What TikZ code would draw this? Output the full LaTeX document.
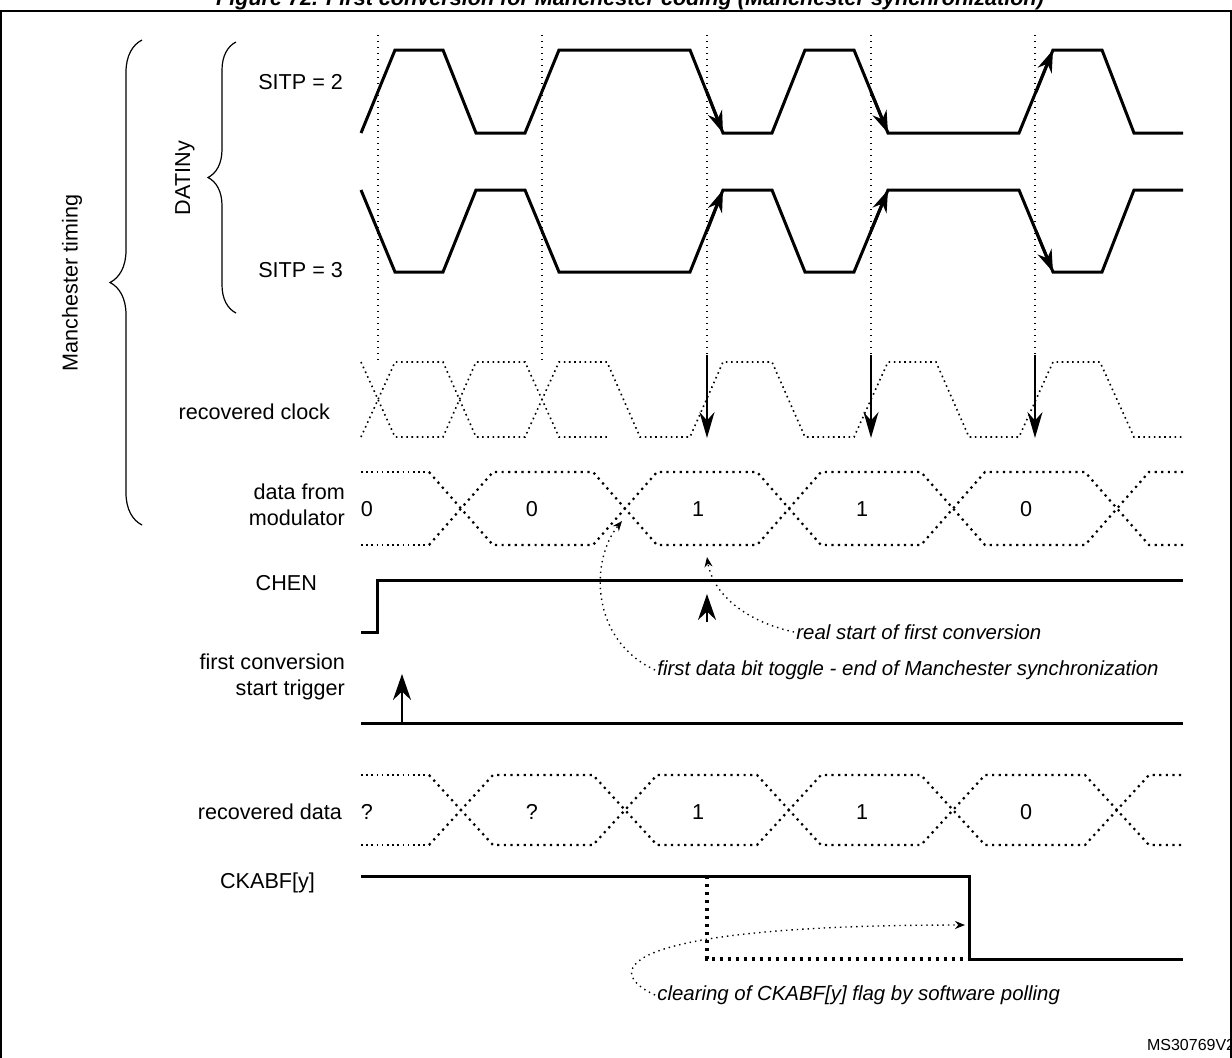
\documentclass[tikz,border=0pt]{standalone}
\usepackage{fontspec}
\setmainfont{Liberation Sans}
\usetikzlibrary{arrows.meta,decorations.pathreplacing}
\begin{document}
\begin{tikzpicture}[x=0.5pt,y=-0.5pt,
  sig/.style={line width=1.5pt,line join=miter},
  vdot/.style={line width=0.6pt,dash pattern=on 0.6pt off 2.4pt},
  bus/.style={line width=1.1pt,dash pattern=on 1.1pt off 2.2pt},
  clk/.style={line width=0.8pt,dash pattern=on 0.8pt off 1.8pt},
  lab/.style={font=\fontsize{10.8}{13}\selectfont,align=right,anchor=east},
  val/.style={font=\fontsize{10.8}{13}\selectfont},
  note/.style={font=\itshape\fontsize{10.2}{12}\selectfont,anchor=west,inner sep=1pt},
  edgearr/.style={line width=1.5pt,-{Stealth[length=11pt,width=7.5pt]}},
  bigarr/.style={line width=1pt,-{Stealth[length=13pt,width=9pt]}},
  smallarr/.style={line width=0.7pt,dash pattern=on 0.7pt off 2pt,-{Stealth[length=5pt,width=4pt]}}]
\useasboundingbox (0,0) rectangle (1232,1057);
\clip (0,0) rectangle (1232,1057);
\node[font=\bfseries\itshape\fontsize{10.8}{13}\selectfont,anchor=base] (title) at (630,5) {Figure 72. First conversion for Manchester coding (Manchester synchronization)};
\draw[line width=1pt] (1,1100) -- (1,11) -- (1231,11) -- (1231,1100);
% vertical dotted guides
\foreach \x/\e in {378/362,542/362,707/355,871/355,1035/355} \draw[vdot] (\x,35) -- (\x,\e);
% SITP = 2
\draw[sig] (361,133)--(395,50)--(443,50)--(476,133)--(525,133)--(559,50)--(690,50)--(723,133)--(772,133)--(805,50)--(854,50)--(888,133)--(1019,133)--(1053,50)--(1102,50)--(1134,133)--(1183,133);
\draw[edgearr] (707,92) -- (723,133);
\draw[edgearr] (871,92) -- (888,133);
\draw[edgearr] (1036,92) -- (1053,50);
% SITP = 3
\draw[sig] (361,190)--(395,272)--(443,272)--(476,190)--(525,190)--(559,272)--(690,272)--(723,190)--(772,190)--(805,272)--(854,272)--(888,190)--(1019,190)--(1053,272)--(1102,272)--(1134,190)--(1183,190);
\draw[edgearr] (707,231) -- (723,190);
\draw[edgearr] (871,231) -- (888,190);
\draw[edgearr] (1036,231) -- (1053,272);
% recovered clock
\draw[clk] (361,437)--(395,362)--(443,362)--(476,437)--(525,437)--(559,362)--(607,362)--(640,437)--(690,437)--(723,362)--(772,362)--(805,437)--(854,437)--(888,362)--(936,362)--(969,437)--(1019,437)--(1053,362)--(1100,362)--(1134,437)--(1183,437);
\draw[clk] (361,362)--(395,437)--(443,437)--(476,362)--(525,362)--(559,437)--(607,437);
\foreach \x in {707,871,1035} \draw[line width=1pt,-{Stealth[length=13pt,width=7.5pt]}] (\x,355) -- (\x,438);
% data from modulator
\draw[clk] (361,472)--(429,472) (361,545)--(429,545);
\draw[bus] (429,472)--(493,545)--(593,545)--(657,472)--(757,472)--(821,545)--(921,545)--(985,472)--(1085,472)--(1149,545)--(1183,545);
\draw[bus] (429,545)--(493,472)--(593,472)--(657,545)--(757,545)--(821,472)--(921,472)--(985,545)--(1085,545)--(1149,472)--(1183,472);
\foreach \x/\t/\n in {367/0/a,532/0/b,698/1/c,862/1/d,1026/0/e} \node[val] (dm\n) at (\x,509) {\t};
% CHEN
\draw[sig] (361,632)--(377,632)--(377,580)--(1183,580);
\draw[bigarr] (707,622) -- (707,594);
% trigger
\draw[sig] (361,723)--(1183,723);
\draw[bigarr] (402,723) -- (402,674);
% recovered data
\draw[clk] (361,775)--(429,775) (361,845)--(429,845);
\draw[bus] (429,775)--(493,845)--(593,845)--(657,775)--(757,775)--(821,845)--(921,845)--(985,775)--(1085,775)--(1149,845)--(1183,845);
\draw[bus] (429,845)--(493,775)--(593,775)--(657,845)--(757,845)--(821,775)--(921,775)--(985,845)--(1085,845)--(1149,775)--(1183,775);
\foreach \x/\t/\n in {367/?/a,532/?/b,698/1/c,862/1/d,1026/0/e} \node[val] (rd\n) at (\x,812) {\t};
% CKABF
\draw[sig] (361,876)--(969,876)--(969,959)--(1183,959);
\draw[bus,line width=1.6pt,dash pattern=on 1.6pt off 2.4pt] (707,876)--(707,959)--(969,959);
% notes
\node[note] (n1) at (794,632) {real start of first conversion};
\node[note] (n2) at (655,670) {first data bit toggle - end of Manchester synchronization};
\node[note] (n3) at (655,995) {clearing of CKABF[y] flag by software polling};
\coordinate (t1) at (707,557);
\coordinate (t2) at (622,521);
\coordinate (t3) at (965,925);
\draw[smallarr] (n1.west) .. controls (740,620) and (712,590) .. (t1);
\draw[smallarr] (n2.west) .. controls (590,640) and (590,560) .. (t2);
\draw[smallarr] (n3.west) .. controls (600,970) and (620,925) .. (t3);
% labels
\node[lab] (s2) at (350,82) {SITP = 2};
\node[lab] (s3) at (350,270) {SITP = 3};
\node[val,rotate=90] (dat) at (185,178) {DATINy};
\draw[line width=0.6pt,decorate,decoration={brace,amplitude=14pt}] (236,313) -- (236,42);
\node[val,rotate=90] (mt) at (72,283) {Manchester timing};
\draw[line width=0.6pt,decorate,decoration={brace,amplitude=16pt}] (142,525) -- (142,40);
\node[lab] (rc) at (337,412) {recovered clock};
\node[lab] (dfm) at (352,505) {data from\\modulator};
\node[lab] (chen) at (324,583) {CHEN};
\node[lab] (fcst) at (352,677) {first conversion\\start trigger};
\node[lab] (rdl) at (349,812) {recovered data};
\node[lab] (ck) at (322,883) {CKABF[y]};
\node[font=\fontsize{8}{9}\selectfont,anchor=west] (ms) at (1140,1045) {MS30769V2};
\end{tikzpicture}
\end{document}
